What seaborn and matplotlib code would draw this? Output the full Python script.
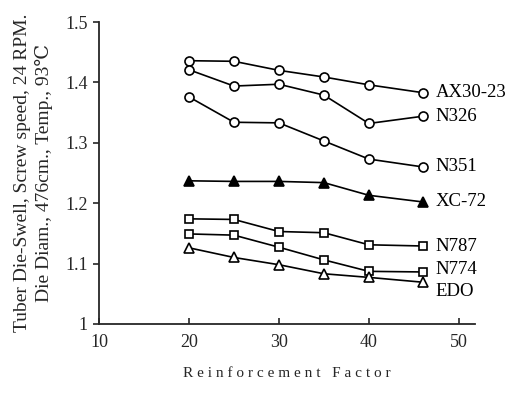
import matplotlib
matplotlib.use("Agg")
import matplotlib.pyplot as plt
import seaborn as sns
import pandas as pd

reinforcement = [20, 25, 30, 35, 40, 46]
series_names = ["AX30-23", "N326", "N351", "XC-72", "N787", "N774", "EDO"]
ax30_23 = [1.436, 1.435, 1.420, 1.409, 1.396, 1.383]
n326 = [1.421, 1.394, 1.397, 1.379, 1.332, 1.344]
n351 = [1.376, 1.334, 1.333, 1.303, 1.273, 1.260]
xc72 = [1.237, 1.236, 1.236, 1.234, 1.213, 1.202]
n787 = [1.174, 1.173, 1.153, 1.151, 1.131, 1.129]
n774 = [1.149, 1.147, 1.127, 1.106, 1.087, 1.086]
edo = [1.126, 1.110, 1.098, 1.083, 1.077, 1.069]
label_offsets = [0.0, 0.0, 0.0, 0.0, 0.0, 0.004, -0.016]

values = [ax30_23, n326, n351, xc72, n787, n774, edo]
rows = []
for name, vals in zip(series_names, values):
    for x, v in zip(reinforcement, vals):
        rows.append({"rf": x, "swell": v, "grade": name})
df = pd.DataFrame(rows)

sns.set_style("ticks")
plt.rcParams['font.family'] = ['Liberation Serif', 'DejaVu Serif']

fig = plt.figure(figsize=(5.13, 3.94), dpi=100)
ax = fig.add_axes([0.193, 0.178, 0.733, 0.766])

markers = {"AX30-23": "o", "N326": "o", "N351": "o", "XC-72": "^",
           "N787": "s", "N774": "s", "EDO": "^"}
fills = {"AX30-23": "white", "N326": "white", "N351": "white", "XC-72": "black",
         "N787": "white", "N774": "white", "EDO": "white"}
sizes = {"o": 6.5, "^": 6.5, "s": 5.5}

for name in series_names:
    sub = df[df.grade == name]
    m = markers[name]
    sns.lineplot(data=sub, x="rf", y="swell", ax=ax, color="black", lw=1.2,
                 marker=m, markersize=sizes[m], markerfacecolor=fills[name],
                 markeredgecolor="black", markeredgewidth=1.2, legend=False,
                 estimator=None)

for name, vals, off in zip(series_names, values, label_offsets):
    ax.text(reinforcement[-1] + 1.4, vals[-1] + off, name, fontsize=13.5,
            va="center", ha="left", color="black")

ax.set_xlim(10, 51.8)
ax.set_ylim(1.0, 1.5)
ax.set_xticks([10, 20, 30, 40, 50])
ax.set_yticks([1.0, 1.1, 1.2, 1.3, 1.4, 1.5])
ax.set_yticklabels(["1", "1.1", "1.2", "1.3", "1.4", "1.5"])
ax.tick_params(axis="x", direction="in", length=4, labelsize=13, pad=7, width=1.2)
ax.tick_params(axis="y", direction="out", length=4, labelsize=13, pad=4, width=1.2)
sns.despine(ax=ax)
for s in ["left", "bottom"]:
    ax.spines[s].set_linewidth(1.3)

ax.set_xlabel("R e i n f o r c e m e n t   F a c t o r", fontsize=11, labelpad=12)
ax.set_ylabel("Tuber Die-Swell, Screw speed, 24 RPM.\nDie Diam., 476cm., Temp., 93\u2103",
              fontsize=14, labelpad=9, linespacing=1.25)

fig.savefig("out.png", dpi=100)
